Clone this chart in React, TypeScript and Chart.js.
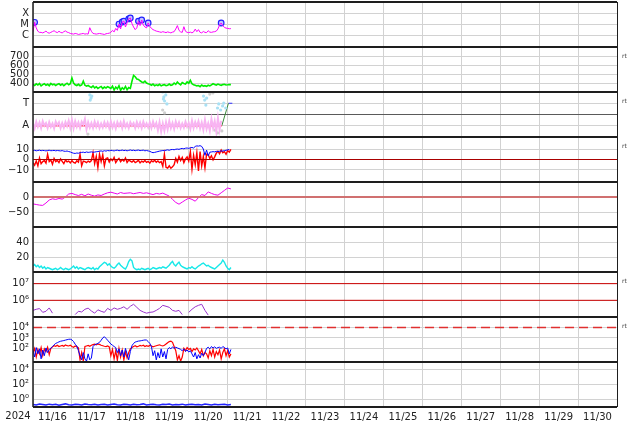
import React, { useEffect, useRef } from 'react';
import { Chart, registerables } from 'chart.js';

Chart.register(...registerables);

// ---------- time sampling ----------
const HOUR = 1 / 24; // days
const TWO_HOURS = 2 / 24;

// ---------- tick labels ----------
const dayLabels = ['11/16', '11/17', '11/18', '11/19', '11/20', '11/21', '11/22', '11/23', '11/24', '11/25', '11/26', '11/27', '11/28', '11/29', '11/30'];
const yearLabel = '2024';
const xrayTicks = [1, 10, 100]; // µW/m²
const xrayLabels = ['C', 'M', 'X'];
const speedTicks = [400, 500, 600, 700];
const speedLabels = ['400', '500', '600', '700'];
const sectorTicks = [0, 0.5, 1];
const sectorLabels = ['A', '', 'T'];
const bTicks = [-10, 0, 10];
const bLabels = ['\u221210', '0', '10'];
const dstTicks = [-50, 0];
const dstLabels = ['\u221250', '0'];
const cyanTicks = [20, 40];
const cyanLabels = ['20', '40'];
const p7Ticks = [1e6, 1e7];
const p7Labels = ['10\u2076', '10\u2077'];
const p8Ticks = [1e2, 1e3, 1e4];
const p8Labels = ['10\u00b2', '10\u00b3', '10\u2074'];
const p9Ticks = [1, 1e2, 1e4];
const p9Labels = ['10\u2070', '10\u00b2', '10\u2074'];

// ---------- data ----------
// X-ray flux, hourly, µW/m²
const xrayFlux = [
  2.3, 15.7, 5, 2.5, 2.0,
  2.0, 1.8, 2.1, 2.6, 1.9, 1.7, 2.0, 2.4, 2.8, 2.2, 1.9, 2.5, 2.0, 1.8, 2.3, 2.7, 2.1, 1.9,
  1.6, 1.5, 1.4, 1.6, 1.5, 1.3, 1.4, 1.5, 1.6, 1.4, 1.5, 1.4,
  5.2, 2.5, 1.6,
  1.5, 1.4, 1.5, 1.6, 1.5, 1.4, 1.3, 1.5, 1.6, 1.7, 2.0,
  3.0, 2.2, 4.5, 3.0, 11, 4, 16.7, 20, 6, 14, 31, 38, 12, 6, 3.5, 5, 20, 8, 25, 9, 6, 5, 13.6, 7, 4.5, 3.5, 3.0, 2.6, 2.4,
  2.2, 2.0, 2.3, 2.1, 1.9, 2.2, 2.0, 1.8, 2.1, 2.3,
  4.0, 8.0, 3.0, 2.2, 2.0, 6.4, 2.5, 2.0, 1.9, 2.1, 1.8, 2.2, 3.9, 2.3, 3.5, 2.0, 1.8, 2.4, 2.0, 1.9, 2.8, 2.1, 2.0, 2.2, 2.3, 2.6, 4.0, 9, 13.6, 8, 5.5, 4.8, 4.5, 4.2, 4.3,
];
const flareDays = [0.042, 2.208, 2.292, 2.333, 2.458, 2.5, 2.708, 2.792, 2.958, 4.833];
const flareFlux = [15.7, 11, 16.7, 20, 31, 38, 20, 25, 13.6, 13.6];

// Solar wind speed, hourly, km/s
const windSpeed = [
  385, 372, 390, 378, 395, 368, 382, 392, 375, 386, 370, 395, 380, 388, 372, 384, 393, 376, 389, 370, 385, 398, 380, 392,
  455, 400, 380, 372, 385, 370, 378, 420, 375, 365, 372,
  360, 350, 368, 345, 358, 340, 352, 362, 338, 355, 345, 360, 350,
  340, 365, 322, 355, 335, 370, 318, 348, 330, 362, 325, 350, 340,
  420, 485, 470, 445, 440, 425, 412, 405, 420, 400, 392,
  385, 375, 388, 370, 380, 372, 385, 368, 378, 382, 370, 376, 388, 374, 380,
  400, 385, 410, 392, 380, 405, 395, 388, 412, 398, 430, 392, 380,
  375, 368, 372, 360, 378, 365, 370, 362, 375, 368,
  380, 392, 384, 376, 388, 380, 374, 382, 386, 378, 380, 384, 382,
];

// IMF sector (A = 0, T = 1), hourly
const sectorPink = [
  0.1, -0.12, 0.18, -0.05, 0.15, -0.1, 0.2, 0.0, 0.12, -0.1, 0.16, -0.05, 0.1, -0.12, 0.18, 0.02, 0.15, -0.1, 0.12, -0.08, 0.16, -0.02, 0.22, -0.1,
  0.26, -0.12, 0.2, -0.05, 0.15, -0.1, 0.18, 0.05, 0.3, -0.16, 0.15, -0.08, 0.12, -0.1, 0.18, -0.05, 0.15, -0.1, 0.1, -0.08, 0.16, -0.04, 0.14, -0.1,
  0.18, -0.08, 0.12, -0.12, 0.16, -0.02, 0.15, -0.1, 0.2, -0.06, 0.1, -0.1, 0.15, 0.0, 0.12, -0.1, 0.16, -0.05, 0.14, -0.1, 0.18, -0.04, 0.1, -0.08,
  0.15, -0.1, 0.18, -0.05, 0.12, -0.2, 0.16, -0.26, 0.1, -0.22, 0.15, -0.16, 0.2, -0.1, 0.12, -0.14, 0.18, -0.05, 0.15, -0.1, 0.1, -0.08, 0.18, -0.04,
  0.12, -0.14, 0.22, -0.1, 0.16, -0.05, 0.2, -0.12, 0.14, -0.18, 0.26, -0.14, 0.1, -0.22, 0.3, -0.1, 0.2, -0.26, 0.34, -0.18, 0.22,
];
const lightBlueDays = [1.46, 1.49, 1.47, 1.51, 3.33, 3.36, 3.38, 3.41, 3.44, 3.35, 4.38, 4.41, 4.44, 4.46, 4.74, 4.77, 4.82, 4.87, 4.9, 4.95];
const lightBlueVals = [1.37, 1.23, 1.14, 1.32, 1.5, 1.28, 1.1, 1.37, 0.97, 1.19, 1.32, 1.14, 0.92, 1.23, 0.79, 0.97, 0.7, 0.88, 1.01, 0.79];
const grayDays = [1.41, 3.33, 3.38, 4.54, 4.62, 4.67, 4.74, 4.85];
const grayVals = [-0.37, 0.7, 0.57, 1.41, 1.46, -0.19, -0.32, -0.23];
const sectorRedDays = [0, 4.85];
const sectorRedVals = [0, 0];
const sectorGreenDays = [4.85, 5.02];
const sectorGreenVals = [0, 1];
const sectorBlueDays = [5.02, 5.12];
const sectorBlueVals = [1, 1];

// IMF Bt and Bz, hourly, nT
const imfBt = [
  8.5, 8.8, 8.3, 8.6, 8.9, 8.4, 8.7, 8.5, 8.2, 8.6, 8.8, 8.4, 8.5, 8.7, 8.3, 8.6, 8.4, 8.2, 8.5, 8.0, 7.8, 8.1, 7.6, 7.2,
  6.5, 6.0, 5.8, 6.2, 6.0, 6.5,
  6.8, 7.0, 6.6, 7.2, 6.8, 7.0, 7.3, 6.9, 7.1, 7.4,
  7.6, 7.9, 8.2, 7.8, 8.4, 8.0, 8.6, 8.3, 8.8, 8.5, 8.2, 8.7, 8.9, 8.4, 8.6, 9.0, 8.5, 8.8, 8.3, 8.7, 9.1, 8.6, 8.9, 8.4, 8.8, 9.0, 8.5, 8.7, 8.9, 8.3, 8.6, 8.2, 7.8,
  7.0, 6.5, 6.8, 7.2, 7.6,
  8.0, 8.3, 8.6, 8.4, 8.9, 9.2, 8.8, 9.4, 9.6, 9.3, 9.8, 10.0, 9.7, 10.3, 10.6, 10.2, 10.8, 11.0, 10.6, 11.2, 11.5, 11.0,
  12.5, 13.0, 12.8, 13.2, 12.5,
  10, 4, 9, 3.5, 7,
  7.2, 7.5, 7.3, 7.8, 7.5, 7.9, 8.2, 8.0, 8.5, 8.8, 9.2, 9.6,
];
const imfBz = [
  -3, -5.5, -1.5, -6, 1.5, -4, -2,
  -1, -3.5, 5, -2, -0.5, -4.5, 1, -2, -0.8, -3, 0.5, -1.8, -4, -0.5, -2.2,
  -1.5, -3.2, -1, -2.8, -3.5, -1.2, -2.5,
  5, -6, -1.5,
  -2, -3, -1.5, -2.5, -1,
  6.5, -4, 3, -7.8, 5, -2, 4.5, -6, 1,
  1.5, -2.5, 0.5, -1, 2, -3, -0.5, 1, -2, 0, -1.5, 1.5, -2.8, -0.5,
  -1.5, -2.5, -1, -3, -2, -0.8, -3.2, -1.5, -2.5, -1, -2.8, -1.8, -3.5, -1.2, -2.2, -0.8, -2.6, -1.4, -3, -2,
  -6.5, 5, -7.5, -8.2, -6, -8.4, -7, -5,
  1, -2.5, 3, -1, 2, -3, 0.5, 2.5, -1.5,
  7.5, -9.4, 4, -5, 6.5, -11, 7.5, -6, 3, -8, 5,
  4.5, 1, 3.5, -0.4, 2.5,
  6, 8, 5.5, 9, 6.5, 7.5, 5, 8.5, 7, 9.7,
];

// Dst, 2-hourly, nT
const dstIndex = [
  -23, -25, -27, -28, -20, -10, -6, -8, -5, -7, 0, 10, 12, 8, 5, 9, 4, 10, 6, 3, 7, 5, 10, 14, 16, 13, 10, 15, 12, 13, 14,
  11, 13, 15, 12, 14, 11, 8, 12, 10, 13, 8, 3, -8, -18, -24, -17, -10, -4, -8, -14, -2, 8, 5, 17, 12, 8, 6, 14, 22, 30, 27,
];

// cyan series, hourly
const cyanSeries = [
  8, 10, 7, 9, 6, 8, 5, 7, 4, 6, 5,
  4, 3, 4, 5, 3, 4, 6, 4, 3, 5, 4, 3,
  4, 6, 8, 5, 7, 4, 6, 5,
  4, 3, 5, 6, 5, 4, 6, 3, 5, 4,
  7, 9, 11, 13, 12, 9, 11, 8, 6, 5,
  7, 10, 12, 9, 7, 5,
  4, 8, 14, 17, 15, 6,
  4, 3, 4, 3, 5, 4, 3, 4, 5, 3, 4, 6, 5, 4, 5, 6, 5, 7,
  6, 5, 7, 9, 12, 14, 10, 8, 11, 13,
  9, 7, 6, 5, 4, 6, 5, 7, 5, 4,
  6, 8, 9, 11, 12, 10, 8, 9, 7, 6, 5, 4,
  6, 8, 10, 12, 16, 13, 8, 5, 3, 6,
];

// electron flux, 2-hourly (null = no data)
const electronFlux = [
  2.5e5, 2.9e5, 3.2e5, 1.9e5, 2.2e5, 3.5e5, 1.7e5, null, null, null, null, null, null,
  1.4e5, 2.2e5, 2.0e5, 2.9e5, 3.4e5, 2.3e5, 1.7e5, 2.7e5, 2.2e5, 1.9e5, 3.3e5, 2.5e5, 3.5e5, 2.9e5, 3.3e5, 4.1e5, 2.9e5,
  4.4e5, 5.8e5, 3.8e5, 2.5e5, 2.0e5, 1.7e5, 1.9e5, 2.0e5, 2.5e5, 3.3e5, 5.0e5, 4.4e5, 3.8e5, 2.5e5, 2.2e5, 2.5e5, 1.4e5,
  null, 1.9e5, 2.9e5, 4.1e5, 5.0e5, 5.8e5, 2.5e5, 1.3e5,
];
const electronLevels = [1e7, 1e6];

// proton flux, hourly
const protonBlue = [
  60, 15, 120, 30, 90, 10, 70, 20, 110, 40, 80,
  100, 150, 220, 300,
  350, 420, 480, 520, 560, 620, 680, 740, 760,
  650, 450, 250, 170, 60,
  20, 8, 40, 10, 6, 30, 8, 12,
  150, 220, 260, 300, 380, 600, 1000, 1300,
  900, 600, 400, 260, 200, 150,
  120, 40, 90, 20, 70, 15, 100, 30, 8, 50,
  180, 300, 400, 450, 500, 520, 560, 600, 640, 620, 450, 300,
  150, 20, 60, 8, 40, 12, 90, 15, 50, 10, 80,
  120, 90, 140, 100, 130, 110, 95,
  80, 60, 90, 50, 70, 45, 60,
  30, 15, 40, 10, 25, 12, 35, 20, 40,
  100, 130, 90, 150, 110, 140, 100, 120,
  130, 100, 150, 120, 90, 110, 30, 80,
];
const protonRed = [
  40, 100, 15, 80, 30, 120, 20, 90, 50, 130, 25,
  100, 140, 180, 160, 200, 150, 170,
  190, 160, 210, 180, 170, 200, 150, 130, 170, 140, 110,
  8, 40, 6,
  150, 170, 190, 160, 200, 230, 250, 220,
  260, 240, 200, 180, 160, 150, 170,
  140, 20, 80, 10, 60, 7, 100, 15, 70, 8, 50, 12, 40, 90,
  120, 150, 180, 140, 160, 190,
  170, 200, 150, 180, 160, 190, 170, 140, 160, 180, 200, 220, 190, 170,
  200, 260, 350, 450, 500, 380, 150, 60,
  8, 20, 6, 15,
  100, 60, 120, 80, 100, 50, 90, 70,
  110, 60, 30, 80, 20, 40,
  30, 12, 60, 20, 80, 15, 50, 25, 70, 10, 40, 90, 20, 60, 15, 30,
];
const protonLevel = [1e4];

// bottom panel, 2-hourly
const bottomBlue = [
  0.22, 0.19, 0.25, 0.21, 0.18, 0.24, 0.2, 0.23, 0.17, 0.22, 0.26, 0.2, 0.19, 0.23, 0.21, 0.18, 0.25, 0.22, 0.2, 0.24,
  0.19, 0.21, 0.23, 0.18, 0.22, 0.25, 0.2, 0.19, 0.24, 0.21, 0.18, 0.23, 0.2, 0.22, 0.26, 0.19, 0.21, 0.24, 0.2, 0.18,
  0.23, 0.21, 0.25, 0.19, 0.22, 0.2, 0.24, 0.18, 0.21, 0.23, 0.2, 0.22, 0.19, 0.25, 0.21, 0.18, 0.23, 0.2, 0.22, 0.24, 0.19, 0.21,
];

// ---------- helpers ----------
const GRID = '#d2d2d2';
const FONT = { family: 'DejaVu Sans', size: 10 };
const PANEL_IDS = ['y1', 'y2', 'y3', 'y4', 'y5', 'y6', 'y7', 'y8', 'y9'];

const seq = (vals: (number | null)[], step: number) => vals.map((v, i) => ({ x: i * step, y: v }));
const pairs = (xs: number[], ys: number[]) => xs.map((x, i) => ({ x, y: ys[i] }));
const fullWidth = (v: number) => [{ x: 0, y: v }, { x: 15, y: v }];

function line(data: any[], yAxisID: string, color: string, width: number, extra: any = {}) {
  return { type: 'line', data, yAxisID, xAxisID: 'x', borderColor: color, backgroundColor: color, borderWidth: width, pointRadius: 0, tension: 0, fill: false, spanGaps: false, ...extra };
}
function dots(data: any[], yAxisID: string, color: string, r: number) {
  return { type: 'line', data, yAxisID, xAxisID: 'x', showLine: false, pointRadius: r, pointBorderWidth: 0, pointBackgroundColor: color, borderColor: color, backgroundColor: color };
}

function yAxis(weight: number, type: string, min: number, max: number, ticks: number[], labels: string[], gridColor?: (v: number) => string) {
  return {
    type, min, max, position: 'left', stack: 'panels', stackWeight: 1, weight,
    border: { display: false },
    grid: { drawTicks: false, color: (c: any) => (gridColor && c.tick ? gridColor(c.tick.value) : GRID) },
    ticks: {
      autoSkip: false, padding: 4, color: '#222', font: FONT,
      callback: (v: any) => { const i = ticks.indexOf(Number(v)); return i >= 0 ? labels[i] : ''; },
    },
    afterBuildTicks: (s: any) => { s.ticks = ticks.map((v) => ({ value: v })); },
    afterFit: (s: any) => { s.width = 33; s.paddingTop = 0; s.paddingBottom = 0; s.paddingLeft = 0; s.paddingRight = 0; },
  };
}

const framePlugin = {
  id: 'panelFrame',
  afterDatasetsDraw(chart: any) {
    const { ctx, chartArea: a } = chart;
    ctx.save();
    ctx.strokeStyle = '#1e1e1e';
    ctx.lineWidth = 2;
    ctx.beginPath();
    PANEL_IDS.forEach((id, i) => {
      if (i === 0) return;
      const y = Math.round(chart.scales[id].top);
      ctx.moveTo(a.left, y); ctx.lineTo(a.right, y);
    });
    ctx.moveTo(a.left, a.top); ctx.lineTo(a.right, a.top);
    ctx.moveTo(a.left, a.bottom); ctx.lineTo(a.right, a.bottom);
    ctx.stroke();
    ctx.lineWidth = 1.5;
    ctx.beginPath(); ctx.moveTo(a.left, a.top); ctx.lineTo(a.left, a.bottom); ctx.stroke();
    ctx.lineWidth = 1;
    ctx.beginPath(); ctx.moveTo(a.right + 0.5, a.top); ctx.lineTo(a.right + 0.5, a.bottom); ctx.stroke();

    ctx.fillStyle = '#222';
    ctx.font = '10px "DejaVu Sans"';
    ctx.textAlign = 'center';
    ctx.textBaseline = 'top';
    ctx.fillText(yearLabel, 18, a.bottom + 4);

    ctx.font = '6px "DejaVu Sans"';
    ctx.fillStyle = '#444';
    ctx.textAlign = 'left';
    ctx.textBaseline = 'middle';
    [1, 2, 3, 6, 7].forEach((i) => {
      const s = chart.scales[PANEL_IDS[i]];
      ctx.fillText('rt', a.right + 5, s.top + 9.5);
    });
    ctx.restore();
  },
};

export default function App() {
  const ref = useRef<HTMLCanvasElement | null>(null);
  useEffect(() => {
    if (!ref.current) return;
    const datasets: any[] = [
      // panel 1
      line(seq(xrayFlux, HOUR), 'y1', '#ff00ff', 1),
      { type: 'line', data: pairs(flareDays, flareFlux), yAxisID: 'y1', xAxisID: 'x', showLine: false, pointRadius: 2.8, pointBorderWidth: 1.2, pointBorderColor: '#2020ff', pointBackgroundColor: '#c4c4ff' },
      // panel 2
      line(seq(windSpeed, HOUR), 'y2', '#00ee00', 1.6),
      // panel 3
      line(seq(sectorPink, HOUR), 'y3', '#f8b4f2', 2),
      dots(pairs(lightBlueDays, lightBlueVals), 'y3', '#a8e0f4', 1.6),
      dots(pairs(grayDays, grayVals), 'y3', '#cfcfcf', 1.6),
      line(pairs(sectorRedDays, sectorRedVals), 'y3', '#ff3c50', 1.6),
      line(pairs(sectorGreenDays, sectorGreenVals), 'y3', '#3c8c3c', 1),
      line(pairs(sectorBlueDays, sectorBlueVals), 'y3', '#3030ff', 1),
      // panel 4
      line(fullWidth(0), 'y4', '#aa0000', 1),
      line(seq(imfBt, HOUR), 'y4', '#0000ff', 1),
      line(seq(imfBz, HOUR), 'y4', '#ff0000', 1.4),
      // panel 5
      line(fullWidth(0), 'y5', '#d07070', 2),
      line(seq(dstIndex, TWO_HOURS), 'y5', '#ee00ee', 1),
      // panel 6
      line(seq(cyanSeries, HOUR), 'y6', '#18e8e8', 1.4),
      // panel 7
      ...electronLevels.map((v) => line(fullWidth(v), 'y7', '#cc0000', 1)),
      line(seq(electronFlux, TWO_HOURS), 'y7', '#9933cc', 1),
      // panel 8
      line(fullWidth(protonLevel[0]), 'y8', '#e03030', 1.5, { borderDash: [9, 5] }),
      line(seq(protonBlue, HOUR), 'y8', '#0000ff', 1),
      line(seq(protonRed, HOUR), 'y8', '#ff0000', 1.2),
      // panel 9
      line(seq(bottomBlue, TWO_HOURS), 'y9', '#2424ff', 1.5),
    ];

    const chart = new Chart(ref.current, {
      type: 'line',
      data: { datasets },
      options: {
        animation: false,
        responsive: false,
        devicePixelRatio: 1,
        layout: { autoPadding: false, padding: { left: 0, top: 2, right: 17, bottom: 0 } },
        plugins: { legend: { display: false }, tooltip: { enabled: false } },
        scales: {
          x: {
            type: 'linear', min: 0, max: 15, position: 'bottom',
            border: { display: false },
            grid: { drawTicks: false, color: (c: any) => (c.tick && Number.isInteger(c.tick.value) ? GRID : 'rgba(0,0,0,0)') },
            ticks: {
              autoSkip: false, maxRotation: 0, minRotation: 0, padding: 4, color: '#222', font: FONT,
              callback: (v: any) => { const k = Math.floor(v); return Math.abs(v - k - 0.5) < 1e-6 ? (dayLabels[k] ?? '') : ''; },
            },
            afterBuildTicks: (s: any) => { const t: any[] = []; for (let i = 0; i <= 30; i++) t.push({ value: i / 2 }); s.ticks = t; },
            afterFit: (s: any) => { s.height = 17; s.paddingLeft = 0; s.paddingRight = 0; s.paddingTop = 0; s.paddingBottom = 0; },
          },
          y1: yAxis(9, 'logarithmic', 0.1, 1000, xrayTicks, xrayLabels),
          y2: yAxis(8, 'linear', 300, 800, speedTicks, speedLabels),
          y3: yAxis(7, 'linear', -0.5, 1.5, sectorTicks, sectorLabels, (v) => (v === 0.5 ? '#5a5a5a' : GRID)),
          y4: yAxis(6, 'linear', -21.5, 21.5, bTicks, bLabels),
          y5: yAxis(5, 'linear', -100, 50, dstTicks, dstLabels),
          y6: yAxis(4, 'linear', 0, 60, cyanTicks, cyanLabels),
          y7: yAxis(3, 'logarithmic', 1e5, 5e7, p7Ticks, p7Labels),
          y8: yAxis(2, 'logarithmic', 5, 1e5, p8Ticks, p8Labels),
          y9: yAxis(1, 'logarithmic', 0.1, 1e5, p9Ticks, p9Labels),
        } as any,
      },
      plugins: [framePlugin],
    } as any);
    return () => chart.destroy();
  }, []);

  return (
    <div style={{ position: 'absolute', left: 0, top: 0, width: 634, height: 424, background: '#fff' }}>
      <canvas ref={ref} width={634} height={424} style={{ display: 'block' }} />
    </div>
  );
}
